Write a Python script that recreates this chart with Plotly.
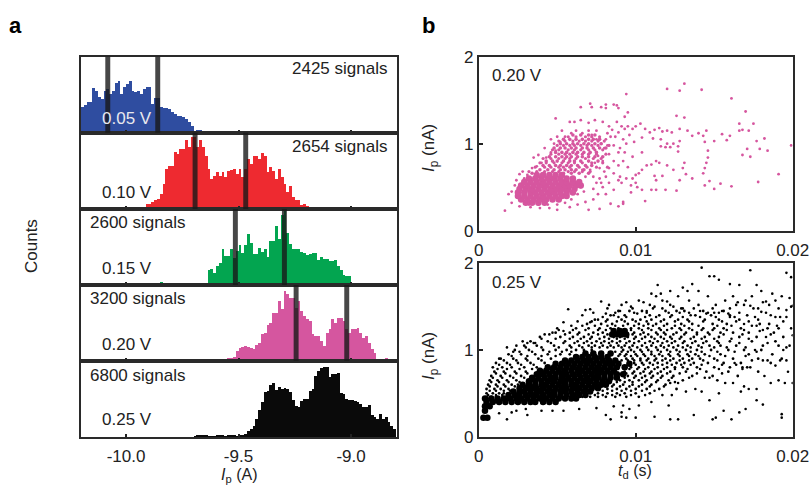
import plotly.graph_objects as go

W, H = 809, 486
BIN = 0.0125
X0 = -10.2
# histogram counts per bin (arbitrary units), bins starting at -10.2
counts_005 = [26,28,31,31,45,42,36,34,42,44,39,42,50,52,39,46,49,52,42,41,42,39,44,46,46,29,35,35,26,25,25,24,21,19,17,17,16,14,11,7,2,3,3,2,1,0,0,0,1]
counts_010 = [0]*16 + [1,1,1,1,1,1,2,5,5,7,9,10,15,25,40,43,43,57,55,60,60,69,62,72,72,62,69,62,53,40,30,33,37,33,37,32,38,39,40,35,40,32,40,50,45,53,53,50,56,53,37,42,38,30,40,32,25,17,23,12,9,9,4,5,3,2,1,1,1,1,1,1,1,0,1,1,0,0,1,0,0,0,0,0,0,1,0,0,1]
counts_015 = [0]*16 + [1,1,0,1,1,0,1,1,1,1,0,1,3,0,0,0,0,1,1,0,0,0,1,1,1,1,1,1,1,15,16,12,19,22,36,29,29,36,27,34,40,32,40,51,42,31,31,37,33,36,28,44,44,59,46,70,74,52,41,36,36,36,33,32,30,31,32,32,25,28,26,26,24,24,25,19,15,10,9,9,2,2,2,1,2,1,1,1,0,2]
counts_020 = [0]*48 + [1,1,1,2,3,3,4,10,13,14,15,14,13,12,16,18,27,28,36,38,48,48,60,52,70,67,63,63,53,60,50,45,42,40,27,25,25,20,15,28,32,42,38,43,43,40,32,28,32,32,33,28,23,25,18,12,8,2,2,2,3,2,1]
counts_025 = [0]*40 + [1,2,2,2,2,1,1,1,2,2,2,1,2,2,2,1,2,2,3,6,8,11,18,27,35,45,46,52,54,47,50,48,49,48,45,37,31,30,36,38,38,46,48,61,66,69,70,70,60,63,63,64,44,43,38,37,37,36,35,33,30,30,32,22,20,18,23,18,20,15,11,8]
all_counts = [counts_005, counts_010, counts_015, counts_020, counts_025]
hist_colors = ["#2f4da0", "#ee2a30", "#03a550", "#d5569f", "#0a0a0a"]
voltages = ["0.05 V", "0.10 V", "0.15 V", "0.20 V", "0.25 V"]
signals = ["2425 signals", "2654 signals", "2600 signals", "3200 signals", "6800 signals"]
markers_a = [[-10.081, -9.859], [-9.693, -9.468], [-9.514, -9.296], [-9.244, -9.019], []]

# scatter points: (t_d in ms, I_p in nA)
pink_sparse = [(1.67,.23),(13.1,1.69),(12,1.63),(12.8,1.61),(14.2,1.62),(9.4,1.57),(16.1,1.52),(17,1.37),(7.1,1.46),(7.2,1.42),(6.5,1.42),(7.8,1.42),(8.1,1.45),(8.1,1.41),(8.6,1.45),(8.8,1.44),(8.9,1.41),(9.5,1.36),(9.3,1.31),(4.9,1.29),(12.6,1.32),(13.1,1.30),(16.6,1.23),(17.5,1.23),(17.2,1.15),(16.6,1.15),(16.8,1.16),(18.2,1.06),(17.7,1.03),(19.9,.98),(17.9,.94),(18.4,.92),(17.1,.94),(16.8,.87),(17.3,.85),(19.1,.65),(17.8,.56),(16.1,.51),(15.4,.54),(15,.48),(14.4,.52),(14.7,.57),(12.6,.46),(11.9,.47),(10.6,.34),(11.3,.47),(11,.47),(10.4,.47),(9.7,.44),(9.2,.33),(9.2,.31),(7.7,.25),(7,.24),(5,.24),(8.4,.31),(8.9,.28),
(10,1.2),(10.3,1.23),(10.6,1.17),(10.9,1.13),(11.2,1.16),(11.5,1.18),(11.7,1.14),(12,1.15),(12.3,1.13),(12.8,1.17),(13.3,1.15),(13.6,1.09),(14,1.12),(14.3,1.09),(14.5,1.15),(14.4,1.02),(15,1.03),(15.5,1.11),(15.8,1.04),(16,1.09),(11.1,1.06),(11.6,1.05),(12,1.0),(12.4,1.0),(12.7,.97),(12.7,.91),(12.8,1.03),(11.6,.97),(11.9,.96),(12.2,.96),(14.6,.92),(14.6,.84),(14.5,.78),(14.4,.72),(14.3,.66),(13.1,.78),(13,.72),(13.2,.65),(12.8,.58),(13.6,.6),(12.4,.7),(12,.75),(11.7,.63),(11.3,.8),(11,.76),(11.5,.78),(11.2,.63),(11.3,.58),(10.4,.9),(10.7,.75),(10.4,.7),(10.2,.66),(10,.64),(9.8,.6),(10,.55),(10.1,.5),(9.7,.52),(9.4,.6),(9.1,.55),(9,.62),(9.5,.73),(9.8,.85),(9.3,.9),(9,.95),(9.9,1.02),(10.4,1.07),(9.6,1.1),(9.3,1.17),(9.1,1.2),(8.8,1.25),(9.5,1.2),(9.8,1.17),(8.3,1.2),(7.9,1.25),(7.4,1.27),(7,1.24),(6.5,1.27),(6.1,1.25),(5.8,1.25),(5.3,1.15),(5,1.08),(4.8,1.0),(4.6,1.05),(4.2,.95),(3.8,.87),(3.5,.84),(2.8,.68),(2.6,.65),
(8.2,1.12),(8.5,1.16),(8.7,1.08),(8.9,1.13),(9.2,1.05),(9.4,1.0),(8.6,.98),(8.9,.9),(8.3,.88),(8.6,.8),(8.9,.75),(9.2,.8),(8.3,.72),(8.6,.66),(8.9,.58),(8.3,.55),(8.6,.47),(8.1,.62),(7.9,.5),(8.1,.42),(7.6,.42),(7.3,.36),(6.8,.33),(6.3,.3),(5.8,.27),(4.5,.26),(3.9,.26),(3.3,.27),(2.6,.28),(2.1,.32),(1.9,.42),(2.1,.45),(2.3,.52),(2.4,.58),(2.9,.6),(3.1,.64),(3.4,.72),(3.7,.74),(4.0,.78),(4.3,.84),(3.8,.62),
(6.6,.7),(6.8,.62),(7.1,.7),(7.3,.62),(7.5,.55),(7.4,.78),(7.6,.86),(7.7,.72),(7.9,.8),(7.2,1.1),(7.5,1.05),(7.8,1.0),(8.0,.95),(8.1,1.05),(7.5,1.15),(7.0,1.15),(6.6,1.12),(6.2,1.15),(5.9,1.12),(5.5,1.08),(5.2,1.02),(4.9,.92),(4.6,.9),(6.5,.5),(6.7,.45),(6.3,.42),(5.9,.36),(5.5,.32),(5,.3),(4.4,.3),(3.8,.3),(3.2,.3),(2.5,.38),(7.7,.6),(8,.68),(8.2,.98),(8.4,1.08),(7.8,.55),(7.3,.48)]
# dense regions, read as rows: I_p -> list of t_d
pink_core_rows = {.32:[3,3.4,3.8,4.2], .36:[2.7,3.1,3.5,3.9,4.3,4.7,5.1], .40:[2.5,2.9,3.3,3.7,4.1,4.5,4.9,5.3,5.6],
    .44:[2.5,2.9,3.3,3.6,4,4.4,4.8,5.2,5.6,6], .48:[2.6,3,3.4,3.8,4.2,4.6,5,5.3,5.7,6.1],
    .52:[2.7,3.1,3.5,3.9,4.3,4.7,5.1,5.5,5.8,6.2,6.5], .56:[2.9,3.3,3.7,4.1,4.5,4.9,5.3,5.6,6,6.4],
    .60:[3.2,3.6,4,4.4,4.8,5.2,5.6,6], .64:[3.7,4.1,4.5,4.9,5.3]}
pink_arm_rows = {1.10:[6,6.5,7,7.4], 1.05:[5.4,5.8,6.2,6.6,7,7.3,7.7], 1.00:[5.2,5.6,6,6.3,6.7,7,7.4,7.8],
    .95:[4.8,5.2,5.5,5.9,6.2,6.6,6.9,7.3,7.7,8.1], .90:[4.9,5.3,5.6,6,6.3,6.7,7.1,7.5],
    .85:[4.5,4.9,5.3,5.6,5.9,6.3,6.6,7,7.4,7.9], .80:[4.3,4.7,5,5.4,5.8,6.1,6.5,7,7.6],
    .75:[4.1,4.5,4.9,5.2,5.6,5.9,6.3,6.8,7.2], .70:[3.9,4.4,4.8,5.2,5.5,5.9,6.2,6.7], .66:[3.4,5.4,5.9,6.4,7]}
pink_arm2_rows = {1.08:[5.7,6.2,6.8,7.2,7.7], 1.03:[5.1,5.5,6,6.4,6.8,7.2,7.6,8], .98:[5,5.4,5.8,6.1,6.5,6.9,7.2,7.6,8.3],
    .93:[4.7,5.1,5.7,6.1,6.5,7,7.4,7.9], .88:[4.6,5.1,5.5,5.8,6.2,6.6,7,7.5,8.1], .83:[4.1,4.6,5.1,5.5,5.8,6.2,6.8,7.3,7.8],
    .78:[3.9,4.3,4.8,5.3,5.7,6.1,6.6,7.2,7.9], .73:[3.6,4.2,4.6,5.1,5.4,5.8,6.4,6.9,7.5,8.2], .68:[3.2,3.7,4.2,4.7,5.1,5.7,6.1,6.6,7.1]}

black_sparse = [(14.2,1.95),(17.3,1.92),(19.6,1.89),(19.9,1.84),(14.7,1.85),(15,1.85),(15.3,1.81),(16,1.76),(16.6,1.75),(17.7,1.75),(18,1.68),(11.4,1.75),(13,1.72),(13.3,1.68),(13.6,1.76),(14,1.68),(12.2,1.68),(11.6,1.65),(11,1.65),(10.5,1.55),(9.4,1.55),(7.8,1.56),(8.3,1.52),(5.7,1.47),(6.8,1.46),(7.1,1.47),(19.8,1.6),(19.9,1.5),(20,1.51),(18.7,1.65),(18.3,1.56),(18.1,1.55),(16.5,1.55),(16.9,1.52),(17.3,1.51),(17.5,1.48),(18,1.44),(19.6,1.46),(19.6,1.38),(19.2,1.38),(18.6,1.4),(17.8,1.35),(16.3,1.38),(15.9,1.42),(15.5,1.45),(15,1.43),(14.5,1.42),(14.1,1.45),(13.5,1.4),(12.9,1.48),(12.4,1.5),(12,1.56),(11.2,1.5),(10.7,1.45),(10.1,1.42),(9.7,1.5),(9,1.45),(8.6,1.4),(8.1,1.42),(7.6,1.35),(7.1,1.32),(6.6,1.4),(5.4,1.32),(5.4,1.22),(5,1.25),(4.7,1.2),(4.2,1.18),(3.6,1.08),(3.1,1.08),(2.8,1.1),(2.4,1.05),(2.2,.98),(1.8,1.03),(1.3,.9),
(19.9,1.25),(20,1.17),(19.8,1.05),(19.4,1.0),(18.3,1.15),(17.9,1.22),(17.4,1.28),(16.9,1.3),(19.6,.88),(19.2,.88),(18.9,.82),(18.4,.88),(17.6,1.0),(19.7,.75),(19.5,.62),(20,.62),(19.1,.65),(18.6,.62),(18.2,.7),(17.3,.8),(16.8,.8),(16.3,.85),(16.9,.58),(16.7,.52),(17.2,.55),(17.7,.55),(16.2,.62),(15.7,.62),(14.7,.68),(14.2,.52),(13.8,.55),(13.2,.52),(12.7,.62),(12.2,.62),(11.7,.48),(12.3,.48),(15.3,.5),(14.7,.42),(17.7,.42),(18.1,.37),(19.3,.22),(19.3,.26),(17,.32),(16.6,.28),(16.1,.2),(15.6,.3),(15.1,.22),(14.9,.2),(13.7,.25),(12.7,.2),(12.2,.2),(11.2,.23),(10,.22),(9.4,.22),(9.1,.23),(9.1,.28),(8.4,.2),(8.1,.25),(4.7,.3),(3.1,.25),(2.1,.28),(1.8,.2),(1.3,.27),(9.6,.32),(10.2,.36),(11,.4),(12.1,.36),(9.2,.36),(8.6,.35),(7.5,.33),(6.4,.32),(5.4,.3),(4,.3),(3,.32),(2.4,.3)]
black_core_rows = {.22:[.3,.55], .30:[.4], .35:[.4,.7], .40:[.5,.9,1.3,1.7,2.1,2.5,2.9,3.3,3.6,4.1,4.5,4.9],
    .44:[.4,.8,1.2,1.6,2,2.4,2.7,3.1,3.5,3.9,4.3,4.7,5.1,5.5,5.9,6.2], .48:[1.9,2.3,2.6,3,3.4,3.7,4.1,4.5,4.8,5.2,5.6,6,6.4,6.8],
    .52:[2.2,2.6,2.9,3.3,3.7,4,4.4,4.8,5.2,5.5,5.9,6.3,6.7,7.1], .56:[2.6,3,3.4,3.7,4.1,4.5,4.9,5.3,5.6,6,6.4,6.8,7.2,7.6],
    .60:[2.8,3.2,3.6,4,4.3,4.7,5.1,5.5,5.9,6.2,6.6,7,7.4,7.8,8.1], .64:[3.2,3.6,4,4.4,4.8,5.2,5.5,5.9,6.3,6.7,7.1,7.5,7.9,8.3],
    .68:[3.4,3.8,4.2,4.6,4.9,5.3,5.7,6.1,6.5,6.9,7.3,7.6,8,8.4,8.8], .72:[3.7,4.1,4.5,4.9,5.3,5.6,6,6.4,6.8,7.2,7.6,8,8.4,8.8,9.2],
    .76:[3.9,4.3,4.7,5.1,5.5,5.9,6.3,6.6,7,7.4,7.8,8.2,8.6], .80:[4.4,4.8,5.2,5.6,6,6.4,6.8,7.2,7.6,8,8.4,8.8,9.3],
    .84:[4.9,5.3,5.7,6.1,6.5,6.9,7.3,7.7,8.1,8.5,8.9,9.6], .88:[5.5,5.9,6.3,6.7,7.1,7.5,7.9,8.3,8.7],
    .92:[6.2,6.6,7,7.4,7.8,8.2], .96:[6.8,7.3,7.8,8.4], 1.18:[8.5,8.8,9.1,9.4], 1.22:[8.6,9,9.3]}
black_mid_rows = {1.45:[8.9,9.6,10.4,11.9,12.6,13.1,14.3,15.6], 1.40:[8.4,9.3,10.9,11.5,12.3,13.8,14.8,16.0,17.1],
    1.35:[7.4,8.2,9.1,9.8,10.3,11,11.8,12.7,13.3,14.4,15.3,16.6], 1.30:[6.9,7.8,8.5,9.5,10.2,10.8,11.3,12,12.9,13.6,14.9,15.8,17.9,18.5],
    1.25:[6.2,7,7.7,8.4,8.9,9.7,10.2,10.8,11.5,12.3,12.8,13.4,14.3,15,15.6,16.7,18.4,19.1],
    1.20:[4.9,5.8,6.4,7.3,7.9,8.5,9.9,10.5,11.3,11.8,12.6,13.2,13.9,14.6,15.4,16.2,17.2,18.8],
    1.15:[3.9,5.2,6,6.7,7.2,8,8.6,9,9.5,10,10.6,11,11.6,12.2,12.9,13.7,14.4,15.3,16.6,17.7,19.4],
    1.10:[3.3,4.4,5.5,6.3,6.9,7.5,8,8.5,9,9.6,10.2,10.9,11.4,12,12.5,13.1,13.8,14.5,15.2,16,17.4,18.9],
    1.05:[2.9,3.7,4.8,5.8,6.4,7,7.4,7.9,8.4,8.9,9.3,9.8,10.4,11,11.6,12.1,12.7,13.3,14,14.7,15.4,16.4,18.1,19.1],
    1.00:[2.3,3.2,4.1,4.9,5.6,6.2,6.7,7.2,9.2,9.7,10.3,10.8,11.4,12,12.6,13.2,13.9,14.8,15.9,16.9,18],
    .95:[1.9,2.7,3.6,4.4,5.2,5.8,9,9.4,10,10.5,11,11.5,12.1,12.7,13.3,13.8,14.4,15.4,17.2,18.7],
    .90:[1.4,2.2,3,3.8,4.6,9.4,9.8,10.3,10.8,11.3,11.9,12.4,13,13.6,14.1,15,16.2,17.8,19.3],
    .85:[1.1,1.8,2.5,3.3,4.2,9.9,10.4,10.9,11.4,12,12.6,13.1,13.7,14.6,15.6,16.7,18.6],
    .80:[.9,1.5,2.1,2.9,3.7,9.7,10.2,10.8,11.4,12,12.5,13,13.9,15,16,17.1],
    .75:[1,1.6,2.3,3,9.3,9.9,10.5,11,11.6,12.2,13.2,14.5,15.9,17.8], .70:[.8,1.4,2,2.7,9.5,10,10.6,11.1,11.7,12.4,13.6,14.9,16.5],
    .65:[.7,1.2,1.8,2.4,9,9.6,10.2,10.7,11.4,12.1,13,15.2], .60:[.6,1.1,1.6,2.1,2.5,8.6,9.2,9.8,10.4,11,11.9],
    .55:[.5,1,1.4,1.9,8.2,8.8,9.4,10,10.7,11.5,12.6], .50:[.5,.9,1.3,1.6,7.6,8.2,8.8,9.3,10,10.9],
    .46:[.5,.8,1.1,6.6,7.1,7.6,8.1,8.7,9.4,10.2]}
black_mid2_rows = {1.62:[11.3,12.7,14.6,16.2,17.4,19.3], 1.57:[10.2,11.7,13.4,15.7,17,18.9], 1.52:[9.1,10.9,12.2,14,15.1,16.4,18.5],
    1.48:[8.2,9.8,11.1,11.7,13,13.7,14.9,16,17.8,19.1], 1.43:[7.3,8.7,9.9,10.7,12.1,12.8,13.4,14.6,15.3,16.6,18.3],
    1.38:[7.9,8.9,9.4,10.6,11.3,12.2,13,14.1,15.1,16,17.6,18.9], 1.33:[6.3,7.2,8.1,8.8,9.3,10,10.7,11.6,12.5,13.4,14.3,15.5,16.4,17.2,19.4],
    1.28:[5.9,6.6,7.4,8.2,8.7,9.2,9.9,10.5,11.1,11.8,12.5,13.1,14,15.2,16.1,17.7,19],
    1.23:[5.1,6,6.8,7.6,8.1,9.7,10.4,11,11.6,12,12.9,13.6,14.2,14.9,15.8,16.9,18.1],
    1.18:[4.5,5.5,6.3,7,7.6,8.2,9.8,10.3,10.8,11.4,11.9,12.4,13.1,13.9,14.7,15.6,16.8,18.6],
    1.13:[4,4.9,5.8,6.5,7.1,7.7,8.3,8.8,9.3,9.9,10.4,11.2,11.8,12.3,12.8,13.5,14.2,15,16.1,17.2],
    1.08:[3.5,4.6,5.4,6.1,6.7,7.2,7.8,8.3,8.8,9.4,9.9,10.6,11.1,11.7,12.3,13,13.6,14.3,15.3,16.6,18.4],
    1.03:[3,4,5.1,5.9,6.6,7.2,7.7,8.2,8.6,9.1,9.6,10.1,10.7,11.3,11.8,12.4,13,13.5,14.2,15,15.8,17,19.6],
    .98:[2.6,3.4,4.5,5.3,5.9,8.7,9.1,9.5,9.9,10.4,11,11.6,12.2,12.8,13.5,14.2,15.2,16.3,17.7],
    .93:[2.1,3.1,4,4.9,8.9,9.3,9.7,10.1,10.6,11.2,11.7,12.2,12.8,13.4,14,14.7,15.7,17],
    .88:[1.6,2.4,3.1,4,9.1,9.5,9.9,10.3,10.7,11.2,11.7,12.2,12.8,13.4,14.3,15.2,17.4,18.1],
    .83:[1.3,2,2.7,3.5,9.5,10,10.5,11.1,11.7,12.3,12.9,13.5,14.2,15.5,16.4], .78:[1.2,1.8,2.6,3.4,9.6,10.1,10.6,11.2,11.8,12.5,13.3,14.1,15.3,16.8],
    .73:[1.1,1.7,2.4,3.1,9.4,9.8,10.3,10.9,11.4,12,12.8,13.9,15.5], .68:[.9,1.5,2.2,2.9,9.3,9.9,10.4,11,11.6,12.3,13.4,14.4],
    .63:[.8,1.3,1.9,2.6,8.8,9.3,9.8,10.6,11.3,12.5], .58:[.7,1.2,1.7,2.3,8.5,9,9.6,10.2,10.9,11.8],
    .53:[.7,1.1,1.6,2,7.9,8.5,9.1,9.7,10.4,11.2], .48:[.6,1.1,1.5,7.4,7.9,8.5,9,9.7,10.6]}

def split(points):
    return [p[0] for p in points], [p[1] for p in points]

def unrow(rows):
    return [t for ip, ts in rows.items() for t in ts], [ip for ip, ts in rows.items() for t in ts]

def px_x(v): return v / W
def px_y(v): return 1 - v / H

TXT = "#222222"
FONT = "Liberation Sans, Arial, sans-serif"
LW = 1.8
FS = 17
row_edges = [56.7, 132.7, 209, 285, 360.7, 437]
A_L, A_R = 81, 396.7
B_L, B_R = 478.7, 792.7
B_ROWS = [(56.7, 230.7), (263.3, 436.7)]

fig = go.Figure()
layout = dict(width=W, height=H, margin=dict(l=0, r=0, t=0, b=0, autoexpand=False), autosize=False,
              paper_bgcolor="white", plot_bgcolor="white", showlegend=False,
              barmode="overlay", bargap=0, font=dict(family=FONT, size=FS, color=TXT))
shapes, notes = [], []

def note(text, x, y, size=FS, color=TXT, anchor="center", angle=0, bold=False):
    notes.append(dict(text=f"<b>{text}</b>" if bold else text, x=px_x(x), y=px_y(y),
                      xref="paper", yref="paper", showarrow=False, xanchor=anchor,
                      yanchor="middle", textangle=angle, font=dict(size=size, color=color, family=FONT)))

for i, vals in enumerate(all_counts):
    n = i + 1
    suffix = "" if n == 1 else str(n)
    xs = [X0 + (k + 0.5) * BIN for k in range(len(vals))]
    fig.add_trace(go.Bar(x=xs, y=vals, width=BIN, marker=dict(color=hist_colors[i], line=dict(width=0)),
                         xaxis=f"x{suffix}", yaxis=f"y{suffix}"))
    last = i == 4
    layout[f"xaxis{suffix}"] = dict(domain=[px_x(A_L), px_x(A_R)], range=[-10.2, -8.797], anchor=f"y{suffix}",
        tickvals=[-10, -9.5, -9], ticktext=["-10.0", "-9.5", "-9.0"], showticklabels=last,
        ticks="inside", ticklen=3, tickwidth=1.5, tickcolor=TXT, showline=True, linewidth=LW,
        linecolor="#2a2a2a", mirror=True, showgrid=False, zeroline=False, ticklabelstandoff=3,
        tickfont=dict(size=FS, color=TXT))
    layout[f"yaxis{suffix}"] = dict(domain=[px_y(row_edges[i + 1]), px_y(row_edges[i])], range=[0, 76],
        anchor=f"x{suffix}", showticklabels=False, ticks="", showline=True, linewidth=LW,
        linecolor="#2a2a2a", mirror=True, showgrid=False, zeroline=False)
    for m in markers_a[i]:
        shapes.append(dict(type="rect", xref=f"x{suffix}", yref=f"y{suffix} domain", x0=m - 0.011, x1=m + 0.011,
                           y0=0, y1=1, fillcolor="rgba(25,25,25,0.8)", line=dict(width=0), layer="above"))

sig_pos = [(389, 69, "right"), (389, 146, "right"), (88, 222, "left"), (88, 298, "left"), (88, 375, "left")]
volt_y = [118, 192, 268, 344, 419]
for i in range(5):
    note(signals[i], sig_pos[i][0], sig_pos[i][1], anchor=sig_pos[i][2])
    note(voltages[i], 127, volt_y[i], color="#e8e8ee" if i == 0 else TXT)

PINK = "#d6569f"
panels = [(6, unrow(pink_core_rows), 6.5, PINK), (6, unrow(pink_arm_rows), 3.6, PINK), (6, unrow(pink_arm2_rows), 3.2, PINK), (6, split(pink_sparse), 2.8, PINK),
          (7, unrow(black_core_rows), 6.5, "#000000"), (7, unrow(black_mid_rows), 2.8, "#000000"), (7, unrow(black_mid2_rows), 2.6, "#000000"), (7, split(black_sparse), 2.6, "#000000")]
for n, (tx, ty), size, col in panels:
    fig.add_trace(go.Scatter(x=tx, y=ty, mode="markers", marker=dict(size=size, color=col, line=dict(width=0)),
                             xaxis=f"x{n}", yaxis=f"y{n}", cliponaxis=True))
for k, n in enumerate((6, 7)):
    layout[f"xaxis{n}"] = dict(domain=[px_x(B_L), px_x(B_R)], range=[0, 20], anchor=f"y{n}",
        tickvals=[0, 10, 20], ticktext=["0", "0.01", "0.02"], ticks="inside", ticklen=4, tickwidth=1.5,
        tickcolor=TXT, showline=True, linewidth=LW, linecolor="#2a2a2a", mirror=True, showgrid=False,
        zeroline=False, tickfont=dict(size=FS, color=TXT), ticklabeloverflow="allow", ticklabelstandoff=3)
    layout[f"yaxis{n}"] = dict(domain=[px_y(B_ROWS[k][1]), px_y(B_ROWS[k][0])], range=[0, 2], anchor=f"x{n}",
        tickvals=[0, 1, 2], ticktext=["0", "1", "2"], ticks="inside", ticklen=4, tickwidth=1.5,
        tickcolor=TXT, showline=True, linewidth=LW, linecolor="#2a2a2a", mirror=True, showgrid=False,
        zeroline=False, tickfont=dict(size=FS, color=TXT))

note("0.20 V", 517, 76)
note("0.25 V", 517, 282)
note("<i>I</i><sub>p</sub> (nA)", 430, 148, angle=-90)
note("<i>I</i><sub>p</sub> (nA)", 430, 356, angle=-90)
note("<i>t</i><sub>d</sub> (s)", 635, 471, size=16)
note("<i>I</i><sub>p</sub> (A)", 239, 475, size=16)
note("Counts", 31, 246, angle=-90)
note("a", 16, 25, size=22, color="#000000", bold=True)
note("b", 428, 25, size=22, color="#000000", bold=True)

layout["shapes"] = shapes
layout["annotations"] = notes
fig.update_layout(**layout)
fig.write_html("out.html", config=dict(displayModeBar=False),
               post_script="document.body.style.margin='0';document.documentElement.style.overflow='hidden';")
